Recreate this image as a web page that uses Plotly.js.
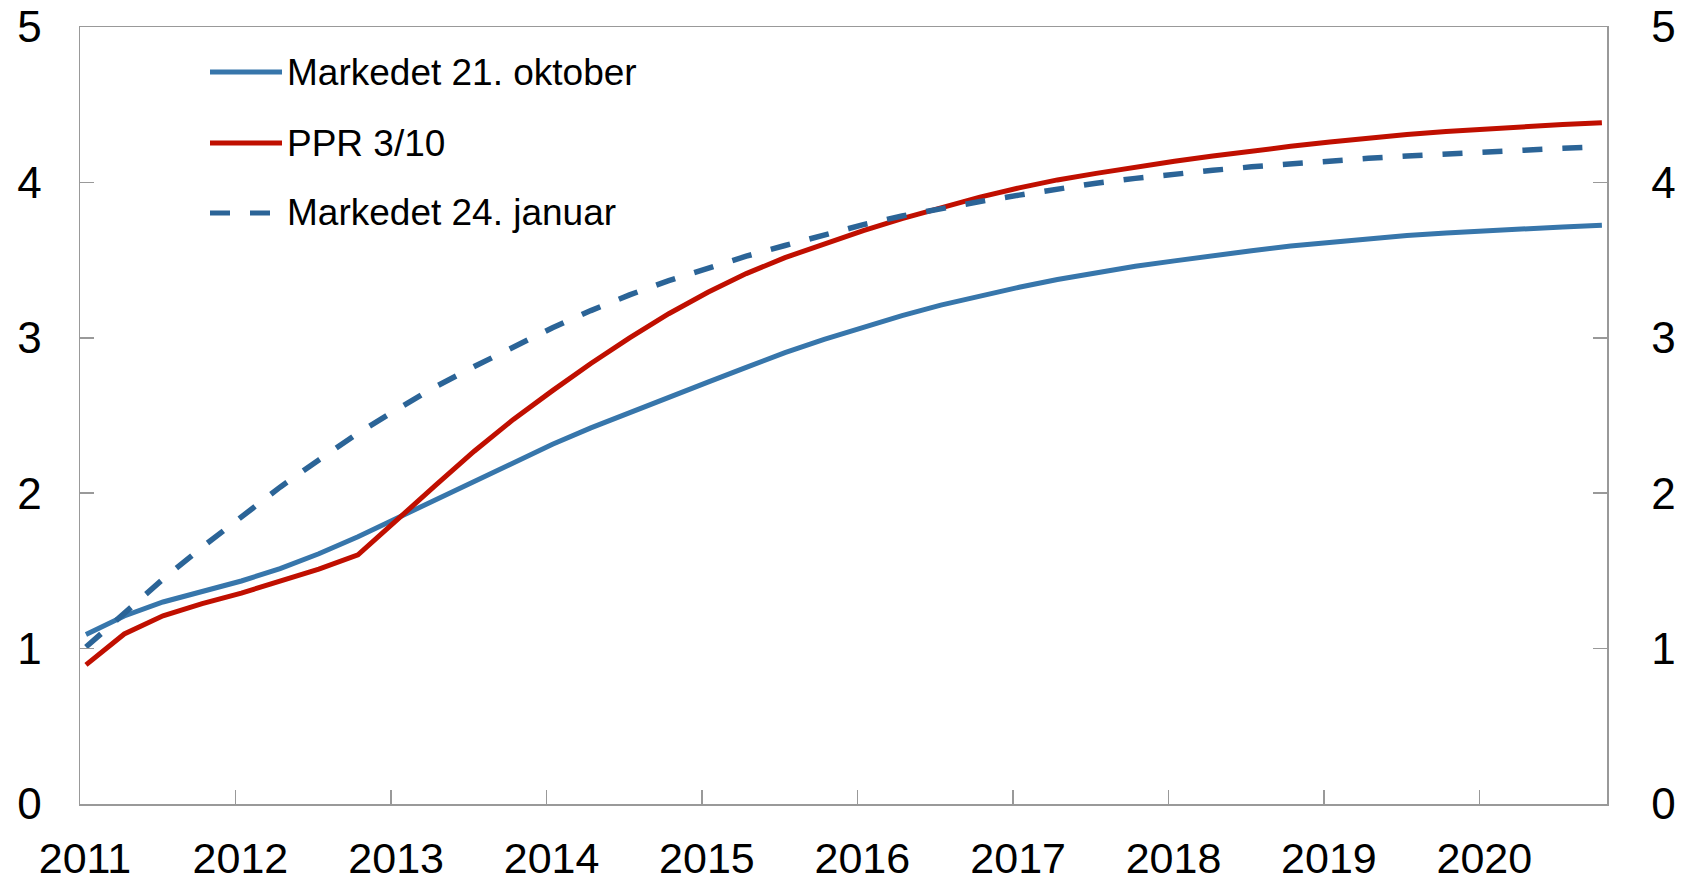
<!DOCTYPE html>
<html>
<head>
<meta charset="utf-8">
<script src="https://cdn.plot.ly/plotly-3.0.1.min.js"></script>
<style>
  html, body { margin: 0; padding: 0; background: #ffffff; }
  #chart { width: 1690px; height: 883px; }
</style>
</head>
<body>
<div id="chart"></div>
<script>
// Quarterly observation dates, 2011 Q1 - 2020 Q4
const years = [2011, 2012, 2013, 2014, 2015, 2016, 2017, 2018, 2019, 2020];
const quarterMonths = ["01", "04", "07", "10"];

// Series names
const seriesNames = ["Markedet 21. oktober", "PPR 3/10", "Markedet 24. januar"];

// Markedet 21. oktober (solid blue)
const markedOkt = [
  1.09, 1.21, 1.30, 1.37,
  1.435, 1.515, 1.61, 1.72,
  1.84, 1.96, 2.08, 2.20,
  2.315, 2.42, 2.52, 2.62,
  2.715, 2.81, 2.905, 2.99,
  3.07, 3.143, 3.21, 3.27,
  3.325, 3.375, 3.42, 3.46,
  3.495, 3.53, 3.56, 3.59,
  3.615, 3.638, 3.658, 3.675,
  3.69, 3.702, 3.713, 3.724
];

// PPR 3/10 (solid red)
const ppr = [
  0.895, 1.094, 1.211, 1.289,
  1.357, 1.432, 1.511, 1.603,
  1.824, 2.05, 2.27, 2.475,
  2.66, 2.835, 3.0, 3.155,
  3.293, 3.413, 3.516, 3.606,
  3.69, 3.767, 3.838, 3.905,
  3.965, 4.016, 4.058, 4.099,
  4.136, 4.17, 4.203, 4.232,
  4.26, 4.286, 4.308, 4.328,
  4.345, 4.359, 4.372, 4.384
];

// Markedet 24. januar (dashed blue)
const markedJan = [
  1.01, 1.23, 1.447, 1.653,
  1.852, 2.039, 2.214, 2.386,
  2.54, 2.685, 2.815, 2.945,
  3.065, 3.175, 3.276, 3.368,
  3.45, 3.525, 3.594, 3.665,
  3.728, 3.784, 3.832, 3.877,
  3.918, 3.958, 3.995, 4.026,
  4.054, 4.078, 4.10, 4.12,
  4.139, 4.155, 4.17, 4.184,
  4.197, 4.208, 4.219, 4.23
];

// Axis tick values
const yTicks = [0, 1, 2, 3, 4, 5];

// build date categories from the quarter table
const dates = [];
years.forEach(y => quarterMonths.forEach(m => dates.push(y + "-" + m + "-15")));

const colBlue = "#3776ab";
const colRed = "#c00f00";
const colDash = "#2b6497";
const FONT = "Liberation Sans, Arial, sans-serif";

const traces = [
  { x: dates, y: markedOkt, type: "scatter", mode: "lines", name: seriesNames[0],
    line: { color: colBlue, width: 5 }, showlegend: false, hoverinfo: "skip" },
  { x: dates, y: ppr, type: "scatter", mode: "lines", name: seriesNames[1],
    line: { color: colRed, width: 5 }, showlegend: false, hoverinfo: "skip" },
  { x: dates, y: markedJan, type: "scatter", mode: "lines", name: seriesNames[2],
    line: { color: colDash, width: 5.5, dash: "20px,20px" }, showlegend: false, hoverinfo: "skip" },
  // carrier for the right-hand axis
  { x: dates, y: markedOkt, type: "scatter", mode: "lines", yaxis: "y2",
    line: { color: "rgba(0,0,0,0)", width: 0 }, showlegend: false, hoverinfo: "skip" }
];

// plot area in pixels
const L = 80, R = 1607, T = 27, B = 804;
const px = v => (v - L) / (R - L);
const py = v => (B - v) / (B - T);

const legendRows = [
  { y: 72, color: colBlue, dash: "solid", text: seriesNames[0] },
  { y: 143, color: colRed, dash: "solid", text: seriesNames[1] },
  { y: 213, color: colDash, dash: "20px,20px", text: seriesNames[2] }
];

const shapes = legendRows.map(r => ({
  type: "line", xref: "paper", yref: "paper",
  x0: px(210), x1: px(r.dash === "solid" ? 282 : 272), y0: py(r.y), y1: py(r.y),
  line: { color: r.color, width: 5, dash: r.dash }
}));

const annotations = legendRows.map(r => ({
  xref: "paper", yref: "paper", x: px(285), y: py(r.y),
  xanchor: "left", yanchor: "middle", showarrow: false,
  text: r.text, font: { family: FONT, size: 37, color: "#000" }
}));

const axisCommon = {
  showgrid: false, zeroline: false,
  showline: true, linecolor: "#999999", linewidth: 1.5,
  ticks: "inside", ticklen: 14, tickwidth: 1.5, tickcolor: "#999999",
  tickfont: { family: FONT, size: 44, color: "#000" },
  automargin: false
};

const layout = {
  width: 1690, height: 883,
  margin: { l: L, r: 1690 - R, t: T, b: 883 - B, pad: 0 },
  paper_bgcolor: "#ffffff", plot_bgcolor: "#ffffff",
  showlegend: false,
  xaxis: Object.assign({}, axisCommon, {
    type: "date", range: ["2011-01-01", "2020-10-27"],
    tick0: "2011-01-01", dtick: "M12", tickformat: "%Y",
    mirror: true, ticklabelstandoff: 16, ticklabelshift: 5,
    tickfont: { family: FONT, size: 43, color: "#000" }
  }),
  yaxis: Object.assign({}, axisCommon, {
    range: [0, 5], tickvals: yTicks, ticktext: yTicks.map(String),
    ticklabelstandoff: 28
  }),
  yaxis2: Object.assign({}, axisCommon, {
    range: [0, 5], tickvals: yTicks, ticktext: yTicks.map(String),
    overlaying: "y", side: "right", anchor: "x",
    ticklabelstandoff: 34
  }),
  shapes: shapes,
  annotations: annotations
};

Plotly.newPlot("chart", traces, layout, { staticPlot: true, displayModeBar: false });
</script>
</body>
</html>
